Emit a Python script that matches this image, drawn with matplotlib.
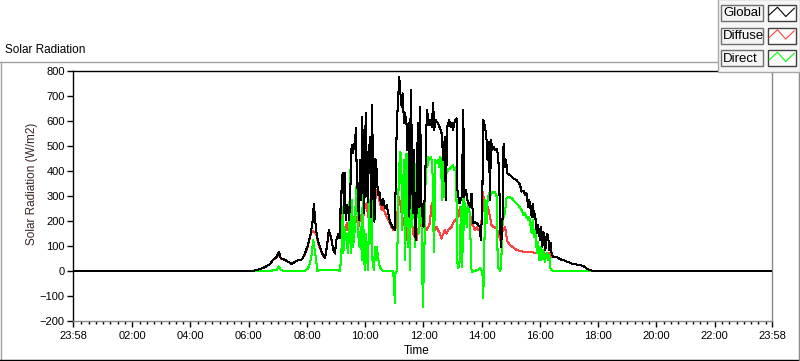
import matplotlib
matplotlib.use("Agg")
import matplotlib.pyplot as plt
import numpy as np
from matplotlib.lines import Line2D
from matplotlib.patches import Rectangle
from matplotlib.transforms import Affine2D

# Solar radiation over one day, minutes from midnight -> W/m2
GLOBAL_MIN = [
    -2, 367, 379, 393, 404, 410, 418, 422, 426, 435,
    449, 459, 470, 476, 482, 488, 492, 494, 499, 503,
    511, 517, 521, 525, 531, 534, 538, 540, 542, 544,
    547, 548, 550, 552, 554, 555, 556, 558, 560, 563,
    565, 567, 570, 572, 574, 577, 579, 581, 582, 584,
    587, 589, 592, 594, 596, 598, 601, 603, 605, 607,
    610, 612, 614, 617, 619, 621, 624, 626, 629, 632,
    634, 637, 641, 644, 647, 651, 654, 658, 661, 665,
    668, 670, 673, 675, 677, 678, 680, 682, 685, 687,
    689, 691, 694, 696, 698, 700, 703, 705, 707, 709,
    711, 713, 716, 720, 723, 727, 730, 732, 735, 737,
    740, 742, 745, 750, 754, 757, 761, 764, 766, 769,
    773, 776, 779, 781, 785, 788, 790, 794, 799, 802,
    804, 808, 810, 816, 819, 823, 826, 830, 833, 836,
    838, 841, 843, 847, 850, 852, 855, 857, 859, 862,
    864, 867, 871, 874, 876, 878, 880, 883, 885, 888,
    890, 893, 898, 905, 912, 919, 922, 926, 929, 932,
    936, 938, 941, 943, 945, 948, 950, 952, 954, 956,
    960, 962, 965, 967, 969, 971, 974, 977, 979, 982,
    984, 987, 994, 1001, 1008, 1015, 1022, 1028, 1035, 1042,
    1049, 1056, 1063, 1070, 1438,
]
GLOBAL_W = [
    0, 0, 5, 15, 28, 44, 57, 77, 51, 44,
    28, 41, 47, 71, 104, 151, 204, 268, 160, 117,
    71, 51, 97, 164, 124, 84, 70, 124, 130, 150,
    130, 250, 230, 384, 310, 394, 230, 394, 204, 264,
    240, 204, 364, 504, 470, 497, 524, 571, 444, 337,
    204, 444, 284, 618, 337, 230, 631, 437, 277, 450,
    537, 217, 664, 290, 197, 450, 397, 304, 317, 277,
    264, 290, 250, 264, 237, 197, 184, 170, 164, 591,
    690, 778, 698, 657, 711, 671, 591, 631, 591, 484,
    591, 217, 725, 510, 230, 484, 137, 124, 470, 591,
    257, 657, 257, 177, 324, 644, 611, 584, 604, 577,
    671, 564, 604, 591, 571, 557, 444, 537, 284, 577,
    604, 577, 591, 564, 604, 611, 324, 270, 297, 644,
    297, 324, 284, 257, 310, 190, 197, 190, 184, 177,
    124, 244, 604, 577, 524, 444, 517, 284, 524, 484,
    497, 484, 490, 457, 364, 177, 97, 217, 510, 417,
    444, 390, 384, 370, 364, 344, 318, 320, 304, 311,
    257, 284, 244, 217, 270, 217, 230, 177, 150, 184,
    124, 177, 97, 157, 124, 84, 150, 137, 84, 111,
    70, 57, 57, 47, 44, 37, 33, 28, 26, 25,
    20, 10, 4, 0, 0,
]

DIFFUSE_MIN = [
    367, 379, 393, 404, 410, 418, 422, 426, 435, 449,
    459, 470, 476, 482, 488, 492, 494, 499, 503, 511,
    517, 521, 525, 531, 534, 538, 540, 542, 544, 547,
    550, 552, 555, 558, 562, 565, 569, 570, 572, 575,
    579, 582, 586, 589, 593, 596, 599, 603, 606, 610,
    613, 616, 620, 623, 627, 629, 632, 634, 637, 641,
    644, 647, 651, 654, 658, 661, 665, 667, 669, 672,
    675, 678, 682, 684, 687, 689, 692, 696, 699, 702,
    706, 709, 713, 716, 720, 723, 727, 730, 733, 737,
    739, 742, 744, 747, 750, 754, 757, 761, 764, 768,
    771, 775, 778, 781, 785, 788, 792, 795, 799, 802,
    805, 809, 812, 816, 819, 823, 826, 830, 833, 836,
    840, 843, 845, 847, 850, 853, 857, 860, 864, 871,
    874, 878, 881, 884, 888, 890, 893, 898, 912, 926,
    953, 974, 981, 984, 994, 1001, 1008, 1015, 1022, 1028,
    1035, 1042, 1049, 1056, 1063, 1070,
]
DIFFUSE_W = [
    0, 5, 15, 28, 44, 55, 70, 50, 44, 28,
    41, 47, 68, 100, 150, 160, 155, 150, 110, 70,
    51, 95, 160, 120, 84, 70, 124, 130, 150, 130,
    257, 231, 164, 150, 191, 164, 204, 150, 177, 217,
    204, 217, 177, 204, 231, 217, 257, 271, 217, 204,
    217, 257, 271, 324, 311, 284, 257, 244, 257, 231,
    217, 204, 191, 177, 164, 171, 177, 257, 297, 271,
    231, 204, 177, 124, 191, 217, 164, 204, 150, 137,
    124, 164, 191, 177, 217, 177, 164, 177, 191, 271,
    231, 177, 164, 177, 164, 150, 130, 150, 164, 150,
    164, 171, 177, 191, 204, 211, 217, 257, 231, 257,
    244, 231, 257, 231, 191, 177, 164, 177, 164, 171,
    204, 317, 257, 204, 251, 257, 217, 184, 177, 171,
    150, 124, 150, 164, 177, 150, 117, 104, 84, 77,
    73, 68, 72, 57, 57, 47, 44, 37, 33, 28,
    26, 25, 20, 10, 4, 0,
]

DIRECT_MIN = [
    367, 404, 410, 418, 422, 426, 435, 476, 482, 486,
    490, 493, 499, 501, 507, 536, 548, 550, 552, 554,
    555, 557, 559, 562, 564, 566, 569, 570, 573, 575,
    579, 581, 584, 586, 588, 591, 593, 595, 597, 599,
    601, 604, 606, 608, 611, 613, 615, 618, 620, 622,
    624, 627, 630, 634, 637, 657, 659, 661, 662, 665,
    667, 669, 672, 674, 676, 678, 680, 682, 685, 688,
    690, 692, 694, 697, 700, 703, 706, 708, 711, 714,
    717, 719, 721, 722, 725, 728, 730, 732, 735, 737,
    739, 740, 742, 744, 747, 750, 752, 755, 757, 759,
    761, 763, 766, 768, 771, 775, 778, 781, 783, 787,
    788, 790, 792, 795, 797, 800, 802, 804, 806, 809,
    812, 816, 818, 820, 826, 833, 836, 840, 842, 843,
    845, 847, 850, 852, 855, 857, 860, 864, 867, 871,
    873, 878, 880, 882, 884, 886, 888, 891, 895, 902,
    908, 915, 922, 926, 929, 932, 936, 938, 941, 943,
    945, 948, 950, 952, 954, 956, 958, 961, 963, 967,
    970, 974, 977, 979, 982, 987, 1069,
]
DIRECT_W = [
    0, 0, 3, 5, 18, 3, 0, 0, 10, 30,
    70, 125, 44, 0, 5, 5, 1, 44, 124, 257,
    71, 177, 124, 150, 71, 124, 404, 71, 284, 97,
    177, 337, 231, 137, 97, 177, 44, 337, 97, 4,
    150, 44, 4, 284, 111, 404, 44, 4, 97, 44,
    97, 44, 17, 4, 1, 0, -36, -129, -9, 1,
    150, 377, 477, 470, 164, 337, 444, 44, 470, 97,
    311, 4, 470, 177, 444, 97, 470, 311, 150, 470,
    44, -143, 44, 97, 444, 417, 457, 444, 457, 444,
    377, 204, 77, 444, 431, 444, 417, 457, 377, 284,
    444, 297, 457, 391, 404, 411, 417, 424, 404, 417,
    284, 31, 11, 44, 257, 17, 324, 164, 271, 177,
    284, 217, 17, -4, 1, 4, 11, 1, -23, -109,
    44, 284, 191, 284, 311, 297, 317, 311, 317, 297,
    17, 1, 17, 150, 231, 217, 237, 291, 297, 291,
    277, 264, 244, 224, 231, 217, 204, 217, 177, 150,
    204, 137, 164, 111, 71, 117, 44, 97, 44, 84,
    37, 71, 44, 64, 4, 1, 0,
]

SERIES = ["Global", "Diffuse", "Direct"]
COLORS = ["black", "#ff4040", "#00ff00"]
LAYER = [3, 2, 2.5]  # global drawn on top
HOUR_TICKS = [2, 4, 6, 8, 10, 12, 14, 16, 18, 20, 22]
Y_TICKS = [-200, -100, 0, 100, 200, 300, 400, 500, 600, 700, 800]

W, H = 800, 361
plt.rcParams["font.family"] = ["Liberation Sans", "DejaVu Sans"]
plt.rcParams["font.size"] = 8

fig = plt.figure(figsize=(W / 100, H / 100), dpi=100)
fig.patch.set_facecolor("white")
# pixel coordinates, y measured from the top edge
px = Affine2D().scale(1 / W, -1 / H).translate(0, 1) + fig.transFigure

ax = fig.add_axes([73 / W, 1 - 321 / H, (772 - 73) / W, (321 - 71) / H])
data = [(GLOBAL_MIN, GLOBAL_W), (DIFFUSE_MIN, DIFFUSE_W), (DIRECT_MIN, DIRECT_W)]
for (t, v), c, z in zip(data, COLORS, LAYER):
    ax.plot(np.asarray(t) / 60.0, v, color=c, lw=0.75, antialiased=False, zorder=z)

start = -2 / 60.0
ax.set_xlim(start, 24 + start)
ax.set_ylim(-200, 800)
ax.set_yticks(Y_TICKS)
ax.set_xticks([start] + HOUR_TICKS + [24 + start])
ax.set_xticklabels(["23:58"] + [f"{h:02d}:00" for h in HOUR_TICKS] + ["23:58"])
ax.set_xticks(np.arange(0.25, 24, 0.25), minor=True)
ax.tick_params(axis="x", which="major", length=4, width=1, pad=3, colors="black")
ax.tick_params(axis="x", which="minor", length=2, width=1)
ax.tick_params(axis="y", which="major", length=4, width=1, pad=2)
for side in ("left", "top"):
    ax.spines[side].set_color("black")
    ax.spines[side].set_linewidth(1)
for side in ("right", "bottom"):
    ax.spines[side].set_color("#8a8a8a")
    ax.spines[side].set_linewidth(1)

# panel frame
fig.add_artist(Line2D([0, 717], [61.5, 61.5], transform=px, color="#a0a0a0", lw=1))
fig.add_artist(Line2D([0.5, 0.5], [61.5, 360], transform=px, color="#a0a0a0", lw=1))
fig.add_artist(Line2D([0, 800], [359.5, 359.5], transform=px, color="black", lw=1))
fig.add_artist(Line2D([799, 799], [71, 360], transform=px, color="#8a8a8a", lw=1))

fig.text(5, 50, "Solar Radiation", transform=px, va="center", ha="left", fontsize=8.5)
fig.text(32, 184, "Solar Radiation (W/m2)", transform=px, rotation=90,
         ha="center", va="center", color="#3a2222", fontsize=8.5)
fig.text(417, 351, "Time", transform=px, ha="center", va="center", fontsize=8.5)

# plot legend in the top-right corner
fig.add_artist(Rectangle((717.5, -1), 82, 72.5, transform=px, fc="#f6f6f6",
                         ec="#a8a8a8", lw=1, zorder=5))
zig_x = np.array([0.06, 0.35, 0.64, 0.94])
zig_y = np.array([0.62, 0.14, 0.72, 0.2])
for i, (name, c) in enumerate(zip(SERIES, COLORS)):
    top = 5 + i * 22.5
    fig.add_artist(Rectangle((721, top), 41.5, 16, transform=px, fc="#f4f4f4",
                             ec="#707070", lw=1, zorder=6))
    fig.text(723, top + 8.5, name, transform=px, ha="left", va="center",
             fontsize=9.5, zorder=7)
    fig.add_artist(Rectangle((767.5, top), 28.5, 16, transform=px, fc="white",
                             ec="#404040", lw=1, zorder=6))
    fig.add_artist(Line2D(767.5 + zig_x * 28.5, top + zig_y * 16, transform=px,
                          color=c, lw=0.8, zorder=7))

fig.savefig("out.png", dpi=100)
